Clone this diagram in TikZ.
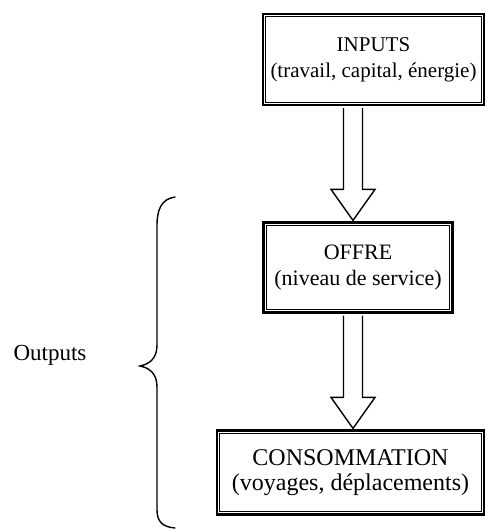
\documentclass[tikz,border=0pt]{standalone}
\usepackage{fontspec}
\setmainfont{Liberation Serif}
\usetikzlibrary{calc}
\tikzset{
  dbox/.style={draw=black, line width=2.2pt, inner sep=0pt, align=center,
    append after command={
      \pgfextra{\draw[line width=1.1pt]
        ([shift={(3.8pt,-3.8pt)}]\tikzlastnode.north west) rectangle
        ([shift={(-3.8pt,3.8pt)}]\tikzlastnode.south east);}
    }},
  blockarrow/.style={draw=black, line width=1.4pt, fill=white, line join=miter},
  bracestyle/.style={draw=black, line width=1.4pt, line cap=round},
  lbl/.style={inner sep=0pt}
}
\begin{document}
\begin{tikzpicture}[x=1pt,y=-1pt]
\useasboundingbox (0,0) rectangle (486,531);
% boxes
\node[dbox, minimum width=221pt, minimum height=91pt, font=\fontsize{21}{26}\selectfont] (inputs) at (373.5,59.5) {INPUTS\\(travail, capital, énergie)};
\node[dbox, minimum width=189pt, minimum height=90pt, font=\fontsize{22}{26}\selectfont] (offre) at (358,267.5) {OFFRE\\(niveau de service)};
\node[dbox, minimum width=267pt, minimum height=84pt, font=\fontsize{24}{25}\selectfont] (conso) at (350.5,472.5) {CONSOMMATION\\(voyages, déplacements)};
\node[lbl, font=\fontsize{23}{26}\selectfont] (outputs) at (50,355) {Outputs};
% arrow 1
\coordinate (ax) at (353,0);
\draw[blockarrow]
  ($(ax |- inputs.south)+(-9.5,2)$) -- ($(ax |- offre.north)+(-9.5,-32)$) -- ($(ax |- offre.north)+(-22,-32)$)
  -- ($(ax |- offre.north)+(0,-1)$) -- ($(ax |- offre.north)+(22,-32)$) -- ($(ax |- offre.north)+(9.5,-32)$)
  -- ($(ax |- inputs.south)+(9.5,2)$);
% arrow 2
\draw[blockarrow]
  ($(ax |- offre.south)+(-9.5,2)$) -- ($(ax |- conso.north)+(-9.5,-32)$) -- ($(ax |- conso.north)+(-22,-32)$)
  -- ($(ax |- conso.north)+(0,-1)$) -- ($(ax |- conso.north)+(22,-32)$) -- ($(ax |- conso.north)+(9.5,-32)$)
  -- ($(ax |- offre.south)+(9.5,2)$);
% brace
\coordinate (btop) at (175,197);
\coordinate (btip) at (140,366);
\coordinate (bbot) at (175,528);
\draw[bracestyle] (btop) .. controls (161,199) and (157,210) .. (157,226)
  -- (157,345) .. controls (157,358) and (150,364) .. (btip)
  .. controls (150,368) and (157,374) .. (157,387)
  -- (157,510) .. controls (157,522) and (163,527) .. (bbot);
\end{tikzpicture}
\end{document}
